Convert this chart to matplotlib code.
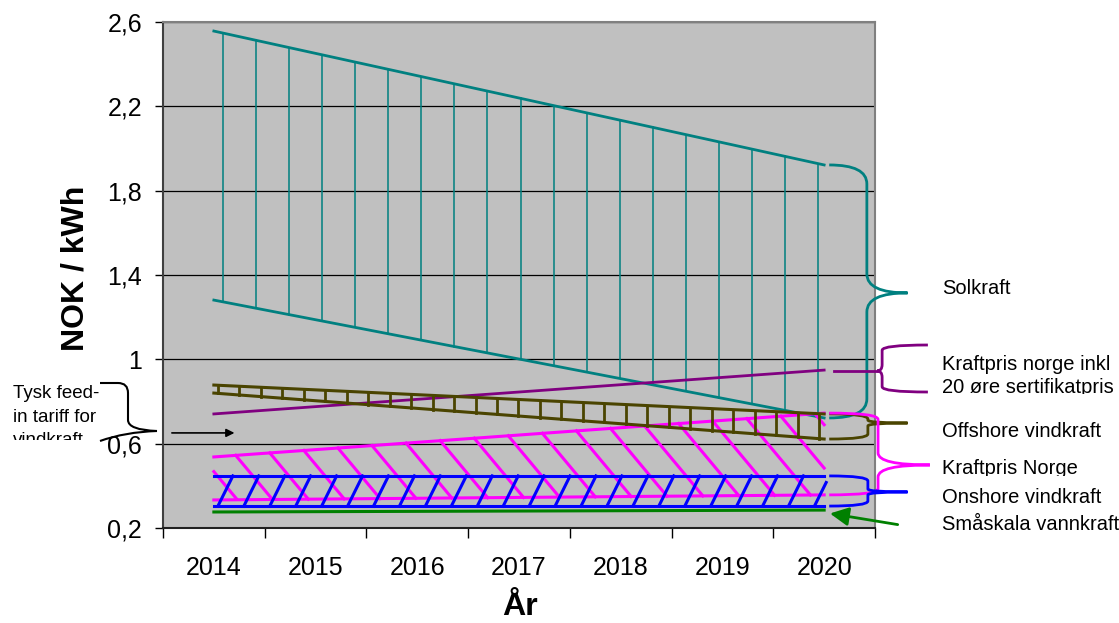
import numpy as np
import matplotlib.pyplot as plt
from matplotlib.path import Path
from matplotlib.patches import PathPatch
from matplotlib.transforms import Affine2D, Bbox

plt.rcParams['font.family'] = ['Liberation Sans', 'DejaVu Sans']

W, H = 1119, 623

years = ['2014', '2015', '2016', '2017', '2018', '2019', '2020']
yticks = [0.2, 0.6, 1.0, 1.4, 1.8, 2.2, 2.6]
ytick_labels = ['0,2', '0,6', '1', '1,4', '1,8', '2,2', '2,6']

# values at 2014 and 2020 (category 0 and 6)
x_end = [0, 6]
sol_upper = [2.557, 1.922]
sol_lower = [1.281, 0.722]
kraft_inkl = [0.741, 0.949]
offshore_upper = [0.878, 0.741]
offshore_lower = [0.840, 0.622]
kraft_upper = [0.537, 0.745]
kraft_lower = [0.333, 0.357]
onshore_upper = [0.447, 0.447]
onshore_lower = [0.304, 0.304]
smaskala = [0.276, 0.285]
feed_in = 0.651

teal = '#008080'
olive = '#4a4400'
purple = '#800080'
magenta = '#ff00ff'
blue = '#0000ff'
green = '#008000'


def lin(ends, x):
    return np.interp(x, x_end, ends)


def brace(ax, x0, xv, xtip, ytop, ybot, ytip, rc, rt, color):
    verts = [(x0, ytop), (xv, ytop), (xv, ytop - rc),
             (xv, ytip + rt),
             (xv, ytip), (xtip, ytip),
             (xv, ytip), (xv, ytip - rt),
             (xv, ybot + rc),
             (xv, ybot), (x0, ybot)]
    codes = [Path.MOVETO, Path.CURVE3, Path.CURVE3, Path.LINETO,
             Path.CURVE3, Path.CURVE3, Path.CURVE3, Path.CURVE3,
             Path.LINETO, Path.CURVE3, Path.CURVE3]
    ax.add_patch(PathPatch(Path(verts, codes), fill=False, ec=color, lw=2,
                           clip_on=False, zorder=5))


fig = plt.figure(figsize=(W / 100, H / 100), dpi=100)
ax = fig.add_axes([163 / W, 1 - 528 / H, 712 / W, 506 / H])
ax.set_facecolor('#c0c0c0')
ax.set_xlim(-0.5, 6.5)
ax.set_ylim(0.2, 2.6)

# Solkraft band with vertical hatching
ax.plot(x_end, sol_upper, color=teal, lw=2)
ax.plot(x_end, sol_lower, color=teal, lw=2)
for xs in np.linspace(0.09, 5.94, 19):
    ax.plot([xs, xs], [lin(sol_lower, xs), lin(sol_upper, xs)], color=teal, lw=1.1)

# Kraftpris norge inkl sertifikat
ax.plot(x_end, kraft_inkl, color=purple, lw=2)

# Kraftpris Norge band with diagonal hatching
ax.plot(x_end, kraft_upper, color=magenta, lw=2.2)
ax.plot(x_end, kraft_lower, color=magenta, lw=2.2)
s = 0.579
u0, ua = kraft_upper[0], (kraft_upper[1] - kraft_upper[0]) / 6
l0, la = kraft_lower[0], (kraft_lower[1] - kraft_lower[0]) / 6
for xs in np.arange(-0.12, 6.0, 0.335):
    xe = (u0 - l0 + ua * xs + s * xs) / (s + la)
    ys = lin(kraft_upper, xs)
    xa, xb = max(xs, 0), min(xe, 6.0)
    if xb <= xa:
        continue
    ax.plot([xa, xb], [ys - s * (xa - xs), ys - s * (xb - xs)], color=magenta, lw=2.2)

# Onshore band
ax.plot(x_end, onshore_upper, color=blue, lw=2.2)
ax.plot(x_end, onshore_lower, color=blue, lw=2.2)
for xb in np.arange(0.04, 6.05, 0.255):
    xt = xb + 0.147
    yb, yt = onshore_lower[0], onshore_upper[0]
    if xt > 6.02:
        yt = yb + (yt - yb) * (6.02 - xb) / (xt - xb)
        xt = 6.02
    ax.plot([xb, xt], [yb, yt], color=blue, lw=2.2)

# Offshore ladder
ax.plot(x_end, offshore_upper, color=olive, lw=2.2)
ax.plot(x_end, offshore_lower, color=olive, lw=2.2)
for xs in np.linspace(0.04, 5.95, 29):
    ax.plot([xs, xs], [lin(offshore_lower, xs), lin(offshore_upper, xs)], color=olive, lw=2)

# Småskala vannkraft
ax.plot(x_end, smaskala, color=green, lw=2.2)

# braces on the right
brace(ax, 6.05, 6.42, 6.82, sol_upper[1], sol_lower[1], 1.315, 0.09, 0.09, teal)
brace(ax, 6.05, 6.43, 6.82, offshore_upper[1], offshore_lower[1], 0.698, 0.024, 0.014, olive)
brace(ax, 6.05, 6.53, 7.04, kraft_upper[1], kraft_lower[1], 0.499, 0.03, 0.057, magenta)
brace(ax, 6.05, 6.43, 6.82, onshore_upper[1], onshore_lower[1], 0.371, 0.024, 0.014, blue)
brace(ax, 7.02, 6.57, 6.52, 1.068, 0.845, 0.945, 0.025, 0.03, purple)
ax.plot([6.1, 6.52], [0.945, 0.945], color=purple, lw=2, clip_on=False, zorder=5)

ax.annotate('', xy=(6.03, 0.271), xytext=(6.75, 0.214), annotation_clip=False,
            arrowprops=dict(arrowstyle='-|>', color=green, lw=2, mutation_scale=28))
ax.annotate('', xy=(0.23, feed_in), xytext=(-0.44, feed_in),
            arrowprops=dict(arrowstyle='-|>', color='black', lw=1.2, mutation_scale=12))

# axes styling
ax.set_yticks(yticks)
ax.set_yticklabels(ytick_labels, fontsize=18)
ax.set_xticks(np.arange(-0.5, 7, 1))
ax.set_xticklabels([])
ax.set_xticks(range(7), minor=True)
ax.set_xticklabels(years, minor=True, fontsize=18)
ax.tick_params(axis='x', which='major', length=7, width=1, direction='out')
ax.tick_params(axis='x', which='minor', length=0, pad=20)
ax.tick_params(axis='y', length=6, width=1, pad=9)
ax.yaxis.grid(True, color='black', lw=0.9)
ax.set_axisbelow(True)
ax.spines['top'].set_color('#808080')
ax.spines['right'].set_color('#808080')
ax.spines['left'].set_color('#404040')
ax.spines['bottom'].set_color('#202020')
for sp in ax.spines.values():
    sp.set_linewidth(1.5)

fig.text(75 / W, 1 - 268 / H, 'NOK / kWh', rotation=90, ha='center', va='center',
         fontsize=23, fontweight='bold')
fig.text(520 / W, 1 - 607 / H, 'År', ha='center', va='center', fontsize=23, fontweight='bold')


def label(x, y, txt, size=14.5, clip_y=None):
    t = fig.text(x / W, 1 - y / H, txt, ha='left', va='baseline', fontsize=size)
    if clip_y is not None:
        t.set_clip_box(Bbox.from_extents(0, H - clip_y, W, H))
        t.set_clip_on(True)
    return t


label(942, 294, 'Solkraft')
label(942, 370, 'Kraftpris norge inkl')
label(942, 393, '20 øre sertifikatpris', clip_y=394)
label(942, 437, 'Offshore vindkraft')
label(942, 474, 'Kraftpris Norge', clip_y=476)
label(942, 503, 'Onshore vindkraft')
label(942, 530, 'Småskala vannkraft')

label(13, 398, 'Tysk feed-', size=13.5)
label(13, 422, 'in tariff for', size=13.5)
label(13, 445, 'vindkraft', size=13.5, clip_y=440)

# bracket next to the feed-in text, in pixel coordinates
pix = Affine2D().scale(1, -1).translate(0, H)
verts = [(100, 383), (118, 383), (128, 383), (128, 393), (128, 420), (128, 430), (157, 431),
         (100, 441), (125, 432), (157, 431)]
codes = [Path.MOVETO, Path.LINETO, Path.CURVE3, Path.CURVE3, Path.LINETO, Path.CURVE3, Path.CURVE3,
         Path.MOVETO, Path.CURVE3, Path.CURVE3]
fig.add_artist(PathPatch(Path(verts, codes), fill=False, ec='black', lw=1.5, transform=pix))

fig.savefig('out.png', dpi=100)
